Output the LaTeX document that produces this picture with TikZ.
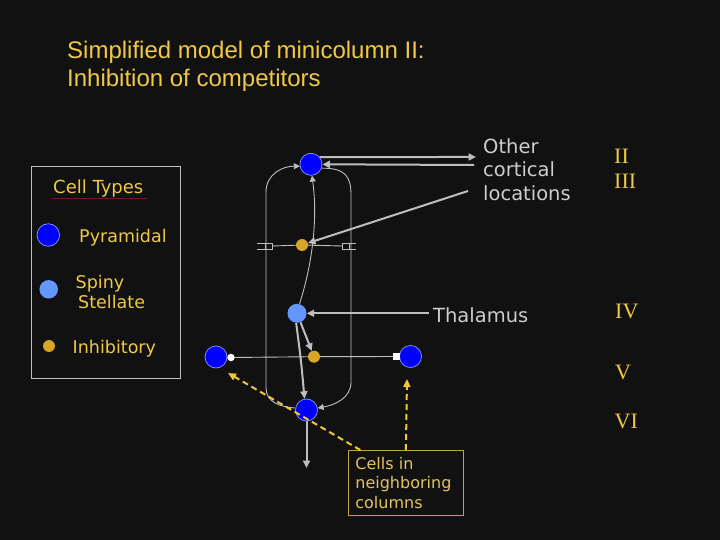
\documentclass[tikz,border=0pt]{standalone}
\usepackage{fontspec}
\setmainfont{DejaVu Sans}
\newfontfamily\titlefont{Liberation Sans}
\newfontfamily\verd{DejaVu Sans}
\newfontfamily\layerfont{Liberation Serif}
\usetikzlibrary{arrows.meta,calc}
\definecolor{bgcol}{RGB}{17,17,17}
\definecolor{titleyellow}{RGB}{240,200,70}
\definecolor{textyellow}{RGB}{240,200,70}
\definecolor{cellsyellow}{RGB}{228,195,95}
\definecolor{cellsborder}{RGB}{200,160,60}
\definecolor{textgray}{RGB}{205,205,205}
\definecolor{linegray}{RGB}{190,190,190}
\definecolor{pyrblue}{RGB}{0,0,255}
\definecolor{pyredge}{RGB}{140,150,255}
\definecolor{spinyblue}{RGB}{100,150,255}
\definecolor{inhgold}{RGB}{215,165,40}
\definecolor{dashyellow}{RGB}{240,200,50}
\definecolor{ulred}{RGB}{120,20,50}
\pgfdeclarelayer{background}
\pgfsetlayers{background,main}
\begin{document}
\begin{tikzpicture}[x=1pt,y=-1pt,
  pyr/.style={circle,fill=pyrblue,draw=pyredge,line width=0.7pt,minimum size=22pt,inner sep=0pt},
  spiny/.style={circle,fill=spinyblue,minimum size=19pt,inner sep=0pt},
  inh/.style={circle,fill=inhgold,minimum size=12pt,inner sep=0pt},
  txt/.style={inner sep=0pt},
  legtxt/.style={txt,text=textyellow,font=\verd\fontsize{17.5}{19.5}\selectfont},
  graytxt/.style={txt,text=textgray,font=\verd\fontsize{19.5}{23.5}\selectfont},
  layertxt/.style={txt,anchor=base west,text=textyellow,font=\layerfont\fontsize{22}{24}\selectfont},
  axon/.style={draw=linegray,line width=2pt,-{Triangle[length=7.5pt,width=7pt]}},
  fibre/.style={draw=linegray,line width=0.9pt},
  fibrearrow/.style={fibre,-{Triangle[length=6pt,width=6pt]}},
  nbr/.style={draw=dashyellow,line width=2pt,dash pattern=on 6pt off 4pt,-{Triangle[length=8pt,width=7pt]}}
]
\useasboundingbox (0,0) rectangle (720,540);

% title
\node[txt,anchor=north west,align=left,text=titleyellow,font=\titlefont\fontsize{24}{28}\selectfont] (title) at (67,40.5) {Simplified model of minicolumn II:\\Inhibition of competitors};

% legend
\node[draw=linegray,line width=0.8pt,minimum width=149pt,minimum height=212pt,inner sep=0pt,anchor=north west] (legend) at (30.5,166) {};
\node[legtxt,anchor=base west,font=\verd\fontsize{18}{20}\selectfont] (ctitle) at (53,193.5) {Cell Types};
\node[pyr,minimum size=22.5pt] (legP) at (48.3,235) {};
\node[legtxt,anchor=base west] (legPt) at (79,243) {Pyramidal};
\node[spiny,minimum size=18.5pt] (legS) at (48.7,289.3) {};
\node[legtxt,anchor=north west,align=left] (legSt) at (75.5,275.5) {Spiny\\\hspace*{2.5pt}Stellate};
\node[inh] (legI) at (49,346) {};
\node[legtxt,anchor=base west] (legIt) at (72.5,353.3) {Inhibitory};

% cells
\node[pyr] (P1) at (311,164.3) {};
\node[inh] (I1) at (302,245) {};
\node[spiny] (S) at (297,313.3) {};
\node[pyr] (PL) at (216,357) {};
\node[inh] (I2) at (314,356.7) {};
\node[pyr] (PR) at (410.5,356.5) {};
\node[pyr] (PB) at (306.5,410) {};
\node[circle,fill=white,minimum size=7.5pt,inner sep=0pt] (WL) at (231,357.5) {};
\node[rectangle,fill=white,minimum size=6.5pt,inner sep=0pt] (WR) at (396.5,356.5) {};

% labels
\node[graytxt,anchor=north west,align=left] (ocl) at (483,138) {Other\\cortical\\locations};
\node[graytxt,anchor=base west] (thal) at (433,322.5) {Thalamus};
\node[layertxt] (LII) at (614,164) {II};
\node[layertxt] (LIII) at (614,188.5) {III};
\node[layertxt] (LIV) at (615,318.5) {IV};
\node[layertxt] (LV) at (615,379.5) {V};
\node[layertxt] (LVI) at (614.5,428) {VI};
\node[draw=cellsborder,line width=0.8pt,anchor=north west,text width=101pt,align=left,inner xsep=6.7pt,inner ysep=0pt,minimum height=65pt,text=cellsyellow,font=\verd\fontsize{16}{19.3}\selectfont] (cells) at (348.3,450) {Cells in\\neighboring\\columns};

% free ends
\coordinate (ocA) at (476,157);
\coordinate (ocB) at (474,165);
\coordinate (ocC) at (468,191);
\coordinate (thalE) at (429,313.3);
\coordinate (down) at (306.5,468);
\coordinate (synL) at (272.5,246);
\coordinate (synR) at (342,246);
\coordinate (nbrL) at (228,373);
\coordinate (nbrR) at (407,379);

\begin{pgfonlayer}{background}
\fill[bgcol] (0,0) rectangle (720,540);
\draw[draw=ulred,line width=0.9pt] (52,198.5) -- (147,198.5);
% loop
\draw[fibrearrow] (PB.170) .. controls (280,407) and (266,402) .. (266,388) -- (266,192) .. controls (266,174) and (283,166) .. (P1.190);
\draw[fibrearrow] (P1.-20) .. controls (345,168) and (351,176) .. (351,195) -- (351,382) .. controls (351,398) and (335,405) .. (PB.10);
% synapse bar
\draw[fibre] (257,243) -- (272.5,243) -- (272.5,249) -- (257,249);
\draw[fibre] (265.5,243) -- (265.5,249);
\draw[fibre] (356,243) -- (342,243) -- (342,249) -- (356,249);
\draw[fibre] (349,243) -- (349,249);
\draw[fibre] (synL) -- (I1) -- (synR);
\draw[fibre] (WL) -- (I2) -- (WR);
% axons
\draw[axon] (P1.40) -- (ocA);
\draw[axon] (ocB) -- (P1.east);
\draw[axon] (ocC) -- (I1);
\draw[axon] (thalE) -- (S);
\draw[axon] (S) -- (I2);
\draw[axon] (S.265) .. controls (301,360) .. (PB.100);
\draw[axon] (PB) -- (down);
\draw[fibrearrow] (S.75) .. controls (312,265) and (318,220) .. (P1.275);
\end{pgfonlayer}

% neighbouring columns
\draw[nbr] ($(cells.north west)+(12,0)$) -- (nbrL);
\draw[nbr] (cells.north) -- (nbrR);
\end{tikzpicture}
\end{document}
